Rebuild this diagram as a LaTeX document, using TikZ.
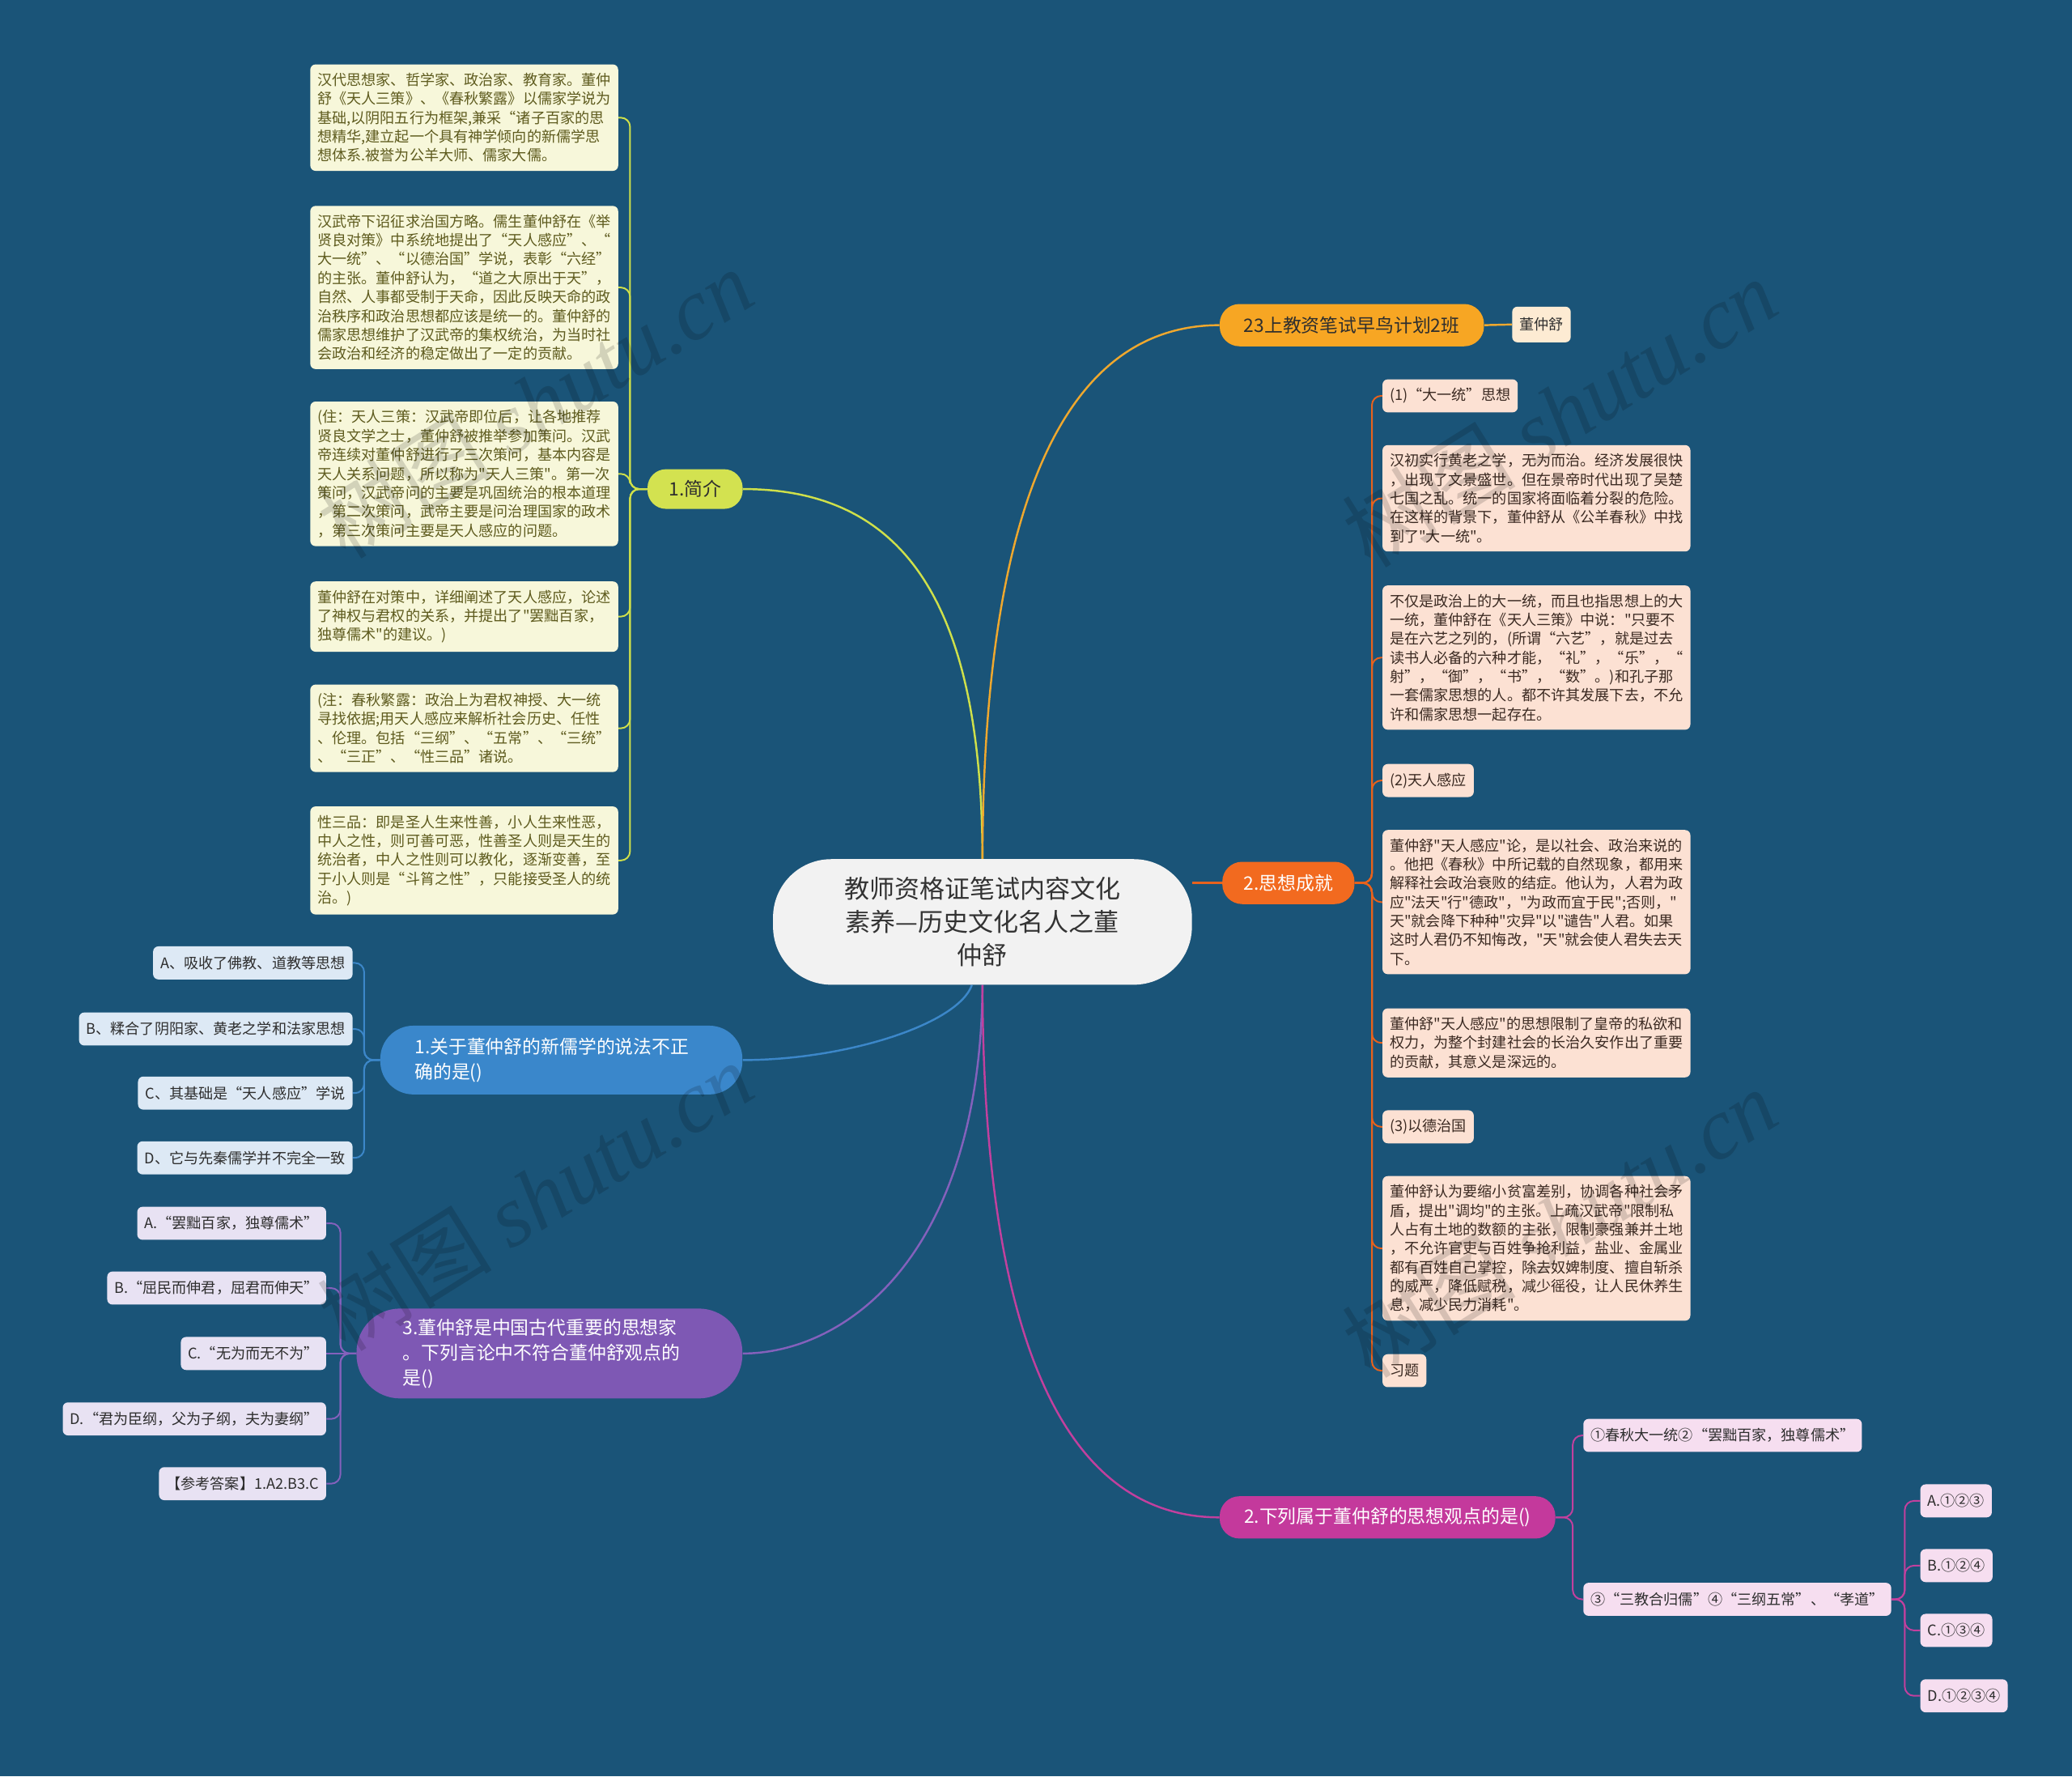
\documentclass[tikz,border=0pt]{standalone}
\usepackage{fontspec}
\setmainfont{Noto Sans CJK SC}[Ligatures=TeXOff]
\newfontfamily\wmserif{Liberation Serif}
\usetikzlibrary{calc}
\pgfdeclarelayer{bg}\pgfdeclarelayer{lines}\pgfdeclarelayer{fg}
\pgfsetlayers{bg,lines,main,fg}
\definecolor{bgc}{HTML}{1A5478}
\definecolor{rootfill}{HTML}{F2F2F2}
\definecolor{roottext}{HTML}{333333}
\definecolor{limec}{HTML}{D3E250}
\definecolor{limeline}{HTML}{CFE04A}
\definecolor{ychfill}{HTML}{F7F7DA}
\definecolor{ychtext}{HTML}{5E5B1E}
\definecolor{goldc}{HTML}{F7A623}
\definecolor{goldline}{HTML}{EFA82E}
\definecolor{peach}{HTML}{FDEBD3}
\definecolor{orangec}{HTML}{F26A1F}
\definecolor{orangeline}{HTML}{E8621C}
\definecolor{ochfill}{HTML}{FCE1D3}
\definecolor{ochtext}{HTML}{3B2A22}
\definecolor{bluec}{HTML}{3A87CB}
\definecolor{blueline}{HTML}{3C87C9}
\definecolor{bchfill}{HTML}{DDE9F5}
\definecolor{purplec}{HTML}{7E58B4}
\definecolor{purpleline}{HTML}{8461BC}
\definecolor{pchfill}{HTML}{E8E2F3}
\definecolor{magc}{HTML}{C4399C}
\definecolor{magline}{HTML}{C2409E}
\definecolor{mchfill}{HTML}{F6DEF0}
\definecolor{dtext}{HTML}{2E2E2E}
\begin{document}
\begin{tikzpicture}[x=1pt,y=-1pt,
  lb/.style={font=\fontsize{11.1}{14.3}\selectfont, rounded corners=4pt, inner xsep=5.5pt, inner ysep=6.5pt},
  sgl/.style={lb, minimum height=25pt, inner ysep=2pt},
  ych/.style={lb, fill=ychfill, text=ychtext, text width=222pt, align=left},
  och/.style={lb, fill=ochfill, text=ochtext, text width=222pt, align=left},
  ochs/.style={sgl, fill=ochfill, text=ochtext},
  bch/.style={sgl, fill=bchfill, text=dtext},
  pch/.style={sgl, fill=pchfill, text=dtext},
  mch/.style={sgl, fill=mchfill, text=dtext},
  mainbr/.style={font=\fontsize{14}{19}\selectfont, inner ysep=0pt},
  curve/.style={line width=1.5pt},
  brk/.style={line width=1.2pt, rounded corners=7pt},
  wm/.style={text=black, opacity=0.15, rotate=32, font=\fontsize{66}{70}\selectfont}
]
\begin{pgfonlayer}{bg}
\fill[bgc] (0,0) rectangle (1568,1344);
\end{pgfonlayer}
\useasboundingbox (0,0) rectangle (1568,1344);

% root
\node[fill=rootfill, text=roottext, rounded corners=44pt, minimum width=317pt, minimum height=95pt,
  align=center, font=\fontsize{19}{25}\selectfont, inner sep=0pt] (root) at (743.5,697.5)
  {教师资格证笔试内容文化\\素养—历史文化名人之董\\仲舒};

% main branches
\node[mainbr, fill=limec, text=dtext, rounded corners=14pt, minimum width=72pt, minimum height=30pt] (jj) at (526,370) {1.简介};
\node[mainbr, fill=goldc, text=dtext, rounded corners=15pt, minimum width=200pt, minimum height=32pt] (zn) at (1023,246) {23上教资笔试早鸟计划2班};
\node[sgl, fill=peach, text=dtext, minimum height=27pt] (dz) at (1166.5,245.5) {董仲舒};
\node[mainbr, fill=orangec, text=white, rounded corners=15pt, minimum width=100pt, minimum height=32pt] (sx) at (975,668) {2.思想成就};
\node[mainbr, fill=bluec, text=white, rounded corners=25pt, text width=222pt, align=left, inner xsep=26pt, minimum height=52pt, anchor=east] (q1) at (562,802) {1.关于董仲舒的新儒学的说法不正\\确的是()};
\node[mainbr, fill=purplec, text=white, rounded corners=33pt, text width=222pt, align=left, inner xsep=35pt, minimum height=68pt, anchor=east] (q3) at (562,1024) {3.董仲舒是中国古代重要的思想家\\。下列言论中不符合董仲舒观点的\\是()};
\node[mainbr, fill=magc, text=white, rounded corners=15pt, minimum width=254pt, minimum height=32pt] (q2) at (1050,1148) {2.下列属于董仲舒的思想观点的是()};

% 1.简介 children
\node[ych, anchor=east] (c1) at (468,89) {汉代思想家、哲学家、政治家、教育家。董仲\\舒《天人三策》、《春秋繁露》以儒家学说为\\基础,以阴阳五行为框架,兼采“诸子百家的思\\想精华,建立起一个具有神学倾向的新儒学思\\想体系.被誉为公羊大师、儒家大儒。};
\node[ych, anchor=east] (c2) at (468,217.5) {汉武帝下诏征求治国方略。儒生董仲舒在《举\\贤良对策》中系统地提出了“天人感应”、“\\大一统”、“以德治国”学说，表彰“六经”\\的主张。董仲舒认为，“道之大原出于天”，\\自然、人事都受制于天命，因此反映天命的政\\治秩序和政治思想都应该是统一的。董仲舒的\\儒家思想维护了汉武帝的集权统治，为当时社\\会政治和经济的稳定做出了一定的贡献。};
\node[ych, anchor=east] (c3) at (468,358.5) {(住：天人三策：汉武帝即位后，让各地推荐\\贤良文学之士，董仲舒被推举参加策问。汉武\\帝连续对董仲舒进行了三次策问，基本内容是\\天人关系问题，所以称为"天人三策"。第一次\\策问，汉武帝问的主要是巩固统治的根本道理\\，第二次策问，武帝主要是问治理国家的政术\\，第三次策问主要是天人感应的问题。};
\node[ych, anchor=east] (c4) at (468,466.5) {董仲舒在对策中，详细阐述了天人感应，论述\\了神权与君权的关系，并提出了"罢黜百家，\\独尊儒术"的建议。)};
\node[ych, anchor=east] (c5) at (468,551) {(注：春秋繁露：政治上为君权神授、大一统\\寻找依据;用天人感应来解析社会历史、任性\\、伦理。包括“三纲”、“五常”、“三统”\\、“三正”、“性三品”诸说。};
\node[ych, anchor=east] (c6) at (468,651) {性三品：即是圣人生来性善，小人生来性恶，\\中人之性，则可善可恶，性善圣人则是天生的\\统治者，中人之性则可以教化，逐渐变善，至\\于小人则是“斗筲之性”，只能接受圣人的统\\治。)};

% 2.思想成就 children
\node[ochs, anchor=west] (r1) at (1046,299.5) {(1)“大一统”思想};
\node[och, anchor=west] (r2) at (1046,377) {汉初实行黄老之学，无为而治。经济发展很快\\，出现了文景盛世。但在景帝时代出现了吴楚\\七国之乱。统一的国家将面临着分裂的危险。\\在这样的背景下，董仲舒从《公羊春秋》中找\\到了"大一统"。};
\node[och, anchor=west] (r3) at (1046,497.5) {不仅是政治上的大一统，而且也指思想上的大\\一统，董仲舒在《天人三策》中说："只要不\\是在六艺之列的，(所谓“六艺”，就是过去\\读书人必备的六种才能，“礼”，“乐”，“\\射”，“御”，“书”，“数”。)和孔子那\\一套儒家思想的人。都不许其发展下去，不允\\许和儒家思想一起存在。};
\node[ochs, anchor=west] (r4) at (1046,590.5) {(2)天人感应};
\node[och, anchor=west] (r5) at (1046,682.5) {董仲舒"天人感应"论，是以社会、政治来说的\\。他把《春秋》中所记载的自然现象，都用来\\解释社会政治衰败的结症。他认为，人君为政\\应"法天"行"德政"，"为政而宜于民";否则，"\\天"就会降下种种"灾异"以"谴告"人君。如果\\这时人君仍不知悔改，"天"就会使人君失去天\\下。};
\node[och, anchor=west] (r6) at (1046,789) {董仲舒"天人感应"的思想限制了皇帝的私欲和\\权力，为整个封建社会的长治久安作出了重要\\的贡献，其意义是深远的。};
\node[ochs, anchor=west] (r7) at (1046,852.5) {(3)以德治国};
\node[och, anchor=west] (r8) at (1046,944.5) {董仲舒认为要缩小贫富差别，协调各种社会矛\\盾，提出"调均"的主张。上疏汉武帝"限制私\\人占有土地的数额的主张，限制豪强兼并土地\\，不允许官吏与百姓争抢利益，盐业、金属业\\都有百姓自己掌控，除去奴婢制度、擅自斩杀\\的威严，降低赋税，减少徭役，让人民休养生\\息，减少民力消耗"。};
\node[ochs, anchor=west] (r9) at (1046,1037) {习题};

% blue children
\node[bch, anchor=east] (ba) at (267,728.5) {A、吸收了佛教、道教等思想};
\node[bch, anchor=east] (bb) at (267,778.5) {B、糅合了阴阳家、黄老之学和法家思想};
\node[bch, anchor=east] (bc) at (267,827) {C、其基础是“天人感应”学说};
\node[bch, anchor=east] (bd) at (267,876) {D、它与先秦儒学并不完全一致};

% purple children
\node[pch, anchor=east] (pa) at (247,925.5) {A.“罢黜百家，独尊儒术”};
\node[pch, anchor=east] (pb) at (247,974.5) {B.“屈民而伸君，屈君而伸天”};
\node[pch, anchor=east] (pc) at (247,1024) {C.“无为而无不为”};
\node[pch, anchor=east] (pd) at (247,1073.5) {D.“君为臣纲，父为子纲，夫为妻纲”};
\node[pch, anchor=east] (pe) at (247,1122.5) {【参考答案】1.A2.B3.C};

% magenta children
\node[mch, anchor=west] (m1) at (1198,1086) {①春秋大一统②“罢黜百家，独尊儒术”};
\node[mch, anchor=west] (m2) at (1198,1210) {③“三教合归儒”④“三纲五常”、“孝道”};
\node[mch, anchor=west] (ga) at (1453,1135.5) {A.①②③};
\node[mch, anchor=west] (gb) at (1453,1184.5) {B.①②④};
\node[mch, anchor=west] (gc) at (1453,1233.5) {C.①③④};
\node[mch, anchor=west] (gd) at (1453,1283) {D.①②③④};

% connectors
\begin{pgfonlayer}{lines}
\draw[curve, limeline] (root.north) .. controls (743,450) and (680,370) .. (jj.east);
\draw[curve, goldline] (root.north) .. controls (744,420) and (790,246) .. (zn.west);
\draw[curve, goldline] (zn.east) -- (dz.west);
\draw[curve, orangeline] (root.east |- sx.west) -- (sx.west);
\draw[curve, blueline] ([xshift=-8pt]root.south) .. controls (725,775) and (640,802) .. (q1.east);
\draw[curve, purpleline] (root.south) .. controls (742,950) and (640,1024) .. (q3.east);
\draw[curve, magline] (root.south) .. controls (744,1000) and (800,1148) .. (q2.west);
\foreach \c in {c1,c2,c3,c4,c5,c6}
  \draw[brk, limeline] (jj.west) -- ++(-13,0) |- (\c.east);
\foreach \c in {r1,r2,r3,r4,r5,r6,r7,r8,r9}
  \draw[brk, orangeline] (sx.east) -- ++(13,0) |- (\c.west);
\foreach \c in {ba,bb,bc,bd}
  \draw[brk, blueline] (q1.west) -- ++(-12,0) |- (\c.east);
\foreach \c in {pa,pb,pd,pe}
  \draw[brk, purpleline] (q3.west) -- ++(-12,0) |- (\c.east);
\draw[brk, purpleline] (q3.west) -- (pc.east);
\foreach \c in {m1,m2}
  \draw[brk, magline] (q2.east) -- ++(13,0) |- (\c.west);
\foreach \c in {ga,gb,gc,gd}
  \draw[brk, magline] (m2.east) -- ++(10,0) |- (\c.west);
\end{pgfonlayer}

% watermarks
\begin{pgfonlayer}{fg}
\node[wm] (w1) at (405,305) {树图 {\wmserif\itshape shutu.cn}};
\node[wm] (w2) at (1180,312) {树图 {\wmserif\itshape shutu.cn}};
\node[wm] (w3) at (405,905) {树图 {\wmserif\itshape shutu.cn}};
\node[wm] (w4) at (1180,925) {树图 {\wmserif\itshape shutu.cn}};
\end{pgfonlayer}
\end{tikzpicture}
\end{document}
